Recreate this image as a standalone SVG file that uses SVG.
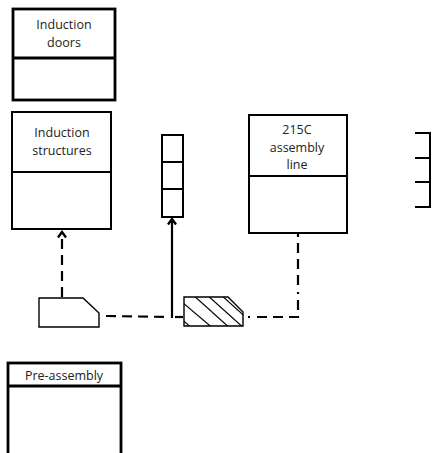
<svg xmlns="http://www.w3.org/2000/svg" width="432" height="453" viewBox="0 0 432 453">
  <defs>
    <style>
      .box { fill: #fff; stroke: #000; stroke-width: 2; }
      .thick { stroke-width: 2.8; }
      .lbl { font-family: "Open Sans", "Liberation Sans", sans-serif; font-size: 12.5px; fill: #222; text-anchor: middle; }
      .shape { fill: #fff; stroke: #000; stroke-width: 1.4; }
      .conn { fill: none; stroke: #000; stroke-width: 2.2; }
      .dash { stroke-dasharray: 10 6; }
      .dashdot { stroke-dasharray: 2 7 10 6 10 6 10 6 10 6; }
    </style>
    <marker id="arrow" viewBox="0 0 10 10" refX="8" refY="5" markerWidth="10" markerHeight="10" markerUnits="userSpaceOnUse" orient="auto">
      <path d="M2.5,1 L8,5 L2.5,9" fill="none" stroke="#000" stroke-width="2.4"/>
    </marker>
    <clipPath id="hatchClip">
      <path d="M184,297 H228 L243,312 V326 H184 Z"/>
    </clipPath>
  </defs>

  <g id="induction-doors">
    <rect class="box thick" x="13" y="9" width="102" height="91"/>
    <line x1="13" y1="58" x2="115" y2="58" stroke="#000" stroke-width="2.8"/>
    <text class="lbl" x="64" y="29">Induction</text>
    <text class="lbl" x="64" y="47">doors</text>
  </g>

  <g id="induction-structures">
    <rect class="box" x="12" y="112" width="99" height="117"/>
    <line x1="12" y1="172" x2="111" y2="172" stroke="#000" stroke-width="2"/>
    <text class="lbl" x="62" y="137">Induction</text>
    <text class="lbl" x="62" y="155">structures</text>
  </g>

  <g id="stack-small">
    <rect class="box" x="162" y="135" width="21" height="82"/>
    <line x1="162" y1="162" x2="183" y2="162" stroke="#000" stroke-width="2"/>
    <line x1="162" y1="189" x2="183" y2="189" stroke="#000" stroke-width="2"/>
  </g>

  <g id="assembly-line-215c">
    <rect class="box" x="249" y="115" width="98" height="118"/>
    <line x1="249" y1="176" x2="347" y2="176" stroke="#000" stroke-width="2"/>
    <text class="lbl" x="297" y="134">215C</text>
    <text class="lbl" x="297" y="152">assembly</text>
    <text class="lbl" x="297" y="169">line</text>
  </g>

  <g id="stack-edge" stroke="#000" stroke-width="2">
    <line x1="415" y1="133" x2="431" y2="133"/>
    <line x1="415" y1="158" x2="431" y2="158"/>
    <line x1="415" y1="182" x2="431" y2="182"/>
    <line x1="415" y1="207" x2="431" y2="207"/>
    <line x1="430" y1="133" x2="430" y2="207"/>
  </g>

  <g id="pre-assembly">
    <rect class="box thick" x="8" y="363" width="113" height="100"/>
    <line x1="8" y1="386" x2="121" y2="386" stroke="#000" stroke-width="2.8"/>
    <text class="lbl" x="64" y="380">Pre-assembly</text>
  </g>

  <g id="source-block">
    <path class="shape" d="M39,298 H83 L99,313 V327 H39 Z"/>
  </g>

  <g id="hatched-block">
    <path class="shape" d="M184,297 H228 L243,312 V326 H184 Z"/>
    <g clip-path="url(#hatchClip)" stroke="#000" stroke-width="1.2">
      <line x1="170" y1="292" x2="215" y2="330"/>
      <line x1="182" y1="285" x2="232" y2="330"/>
      <line x1="196" y1="285" x2="246" y2="330"/>
      <line x1="210" y1="285" x2="260" y2="330"/>
      <line x1="224" y1="285" x2="274" y2="330"/>
      <line x1="165" y1="305" x2="200" y2="335"/>
    </g>
  </g>

  <g id="connectors">
    <line class="conn dash" x1="62" y1="297" x2="62" y2="232" marker-end="url(#arrow)"/>
    <line class="conn" x1="172" y1="318" x2="172" y2="219" marker-end="url(#arrow)"/>
    <line class="conn dash" x1="106" y1="316" x2="168" y2="317"/>
    <line class="conn" x1="175" y1="317" x2="183" y2="317"/>
    <polyline class="conn dashdot" points="248,317 298,317 298,234"/>
  </g>
</svg>
